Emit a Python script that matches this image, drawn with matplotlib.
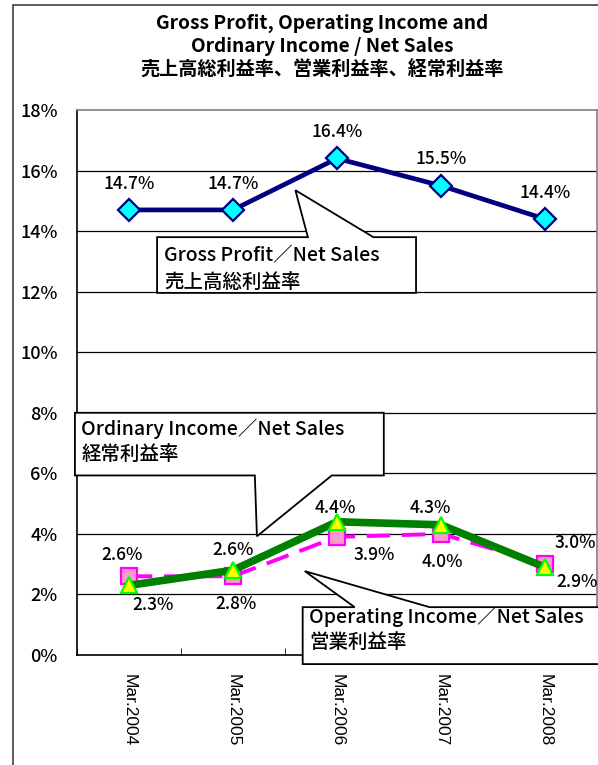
import numpy as np
import matplotlib.pyplot as plt
from matplotlib.patches import Polygon, Rectangle

plt.rcParams['font.family'] = ['Noto Sans CJK JP', 'DejaVu Sans']

years = ["Mar.2004", "Mar.2005", "Mar.2006", "Mar.2007", "Mar.2008"]
gross = [14.7, 14.7, 16.4, 15.5, 14.4]
operating = [2.6, 2.6, 3.9, 4.0, 3.0]
ordinary = [2.3, 2.8, 4.4, 4.3, 2.9]
yticks = [0, 2, 4, 6, 8, 10, 12, 14, 16, 18]

# label offsets in points (dx, dy)
gross_off = [(0, 19)] * 5
op_off = [(-5, 15), (0, 19), (27, -13), (1, -20), (22, 15)]
ord_off = [(17, -14), (2, -24), (-1, 10), (-8, 12), (23, -11)]

fig = plt.figure(figsize=(5.98, 7.65), dpi=100)
# outer chart frame
fig.patches.append(Rectangle((13 / 598, -0.1), 1.2, 1 - 5 / 765 + 0.1,
                             transform=fig.transFigure, fill=False,
                             edgecolor='#404040', lw=1.2))

ax = fig.add_axes([77 / 598, 1 - 655 / 765, 520 / 598, 545 / 765])
x = np.arange(len(years))

ax.set_xlim(-0.5, 4.5)
ax.set_ylim(0, 18)
for yv in yticks[1:-1]:
    ax.axhline(yv, color='black', lw=0.9, zorder=1)

ax.plot(x, gross, color='#000080', lw=3.4, marker='D', ms=11,
        mfc='#00FFFF', mec='#000080', mew=1.6, zorder=5)
ax.plot(x, operating, color='#FF00FF', lw=2.8, ls=(0, (6, 3)), marker='s',
        ms=12, mfc='#FF99CC', mec='#FF00FF', mew=1.6, zorder=5)
ax.plot(x, ordinary, color='#008000', lw=5.5, marker='^', ms=12,
        mfc='#FFFF00', mec='#00FF00', mew=1.6, zorder=6)

for vals, offs in [(gross, gross_off), (operating, op_off), (ordinary, ord_off)]:
    for i, v in enumerate(vals):
        ax.annotate(f"{v:.1f}%", (i, v), xytext=offs[i], textcoords='offset points',
                    ha='center', va='center', fontsize=12.5, fontweight='medium',
                    zorder=8, annotation_clip=False)


def callout(xs, ys, lines, tx, tys):
    poly = Polygon(list(zip(xs, ys)), closed=True, facecolor='white',
                   edgecolor='black', lw=1.3, zorder=4, clip_on=False)
    ax.add_patch(poly)
    for line, ty in zip(lines, tys):
        ax.text(tx, ty, line, fontsize=14, ha='left', va='center',
                fontweight='medium', zorder=4, clip_on=False)


# Gross callout
callout([0.27, 1.72, 1.60, 2.35, 2.76, 2.76, 0.27],
        [13.8, 13.8, 15.35, 13.8, 13.8, 11.96, 11.96],
        ["Gross Profit／Net Sales", "売上高総利益率"], 0.34, [13.2, 12.32])
# Ordinary callout
callout([-0.52, 2.45, 2.45, 1.95, 1.23, 1.21, -0.52],
        [8.0, 8.0, 5.93, 5.93, 3.92, 5.93, 5.93],
        ["Ordinary Income／Net Sales", "経常利益率"], -0.46, [7.47, 6.62])
# Operating callout
callout([1.67, 2.17, 1.69, 2.89, 4.8, 4.8, 1.67],
        [1.58, 1.58, 2.77, 1.58, 1.58, -0.3, -0.3],
        ["Operating Income／Net Sales", "営業利益率"], 1.73, [1.25, 0.42])

ax.set_yticks(yticks)
ax.set_yticklabels([f"{v}%" for v in yticks], fontsize=13, fontweight='medium')
ax.tick_params(axis='y', length=0, pad=14)
ax.set_xticks(x)
ax.set_xticklabels(years, rotation=-90, fontsize=12.5, family='Liberation Sans')
ax.set_xticks(np.arange(-0.5, 5, 1), minor=True)
ax.tick_params(axis='x', which='major', length=0, pad=14)
ax.tick_params(axis='x', which='minor', direction='in', length=5)

for s in ['left', 'bottom']:
    ax.spines[s].set_color('black')
    ax.spines[s].set_linewidth(1.2)
for s in ['top', 'right']:
    ax.spines[s].set_color('#808080')
    ax.spines[s].set_linewidth(1.2)

fig.text(322 / 598, 1 - 47 / 765,
         "Gross Profit, Operating Income and\nOrdinary Income / Net Sales\n売上高総利益率、営業利益率、経常利益率",
         ha='center', va='center', fontsize=13.8, fontweight='bold', linespacing=1.3)

fig.savefig("out.png", dpi=100)
